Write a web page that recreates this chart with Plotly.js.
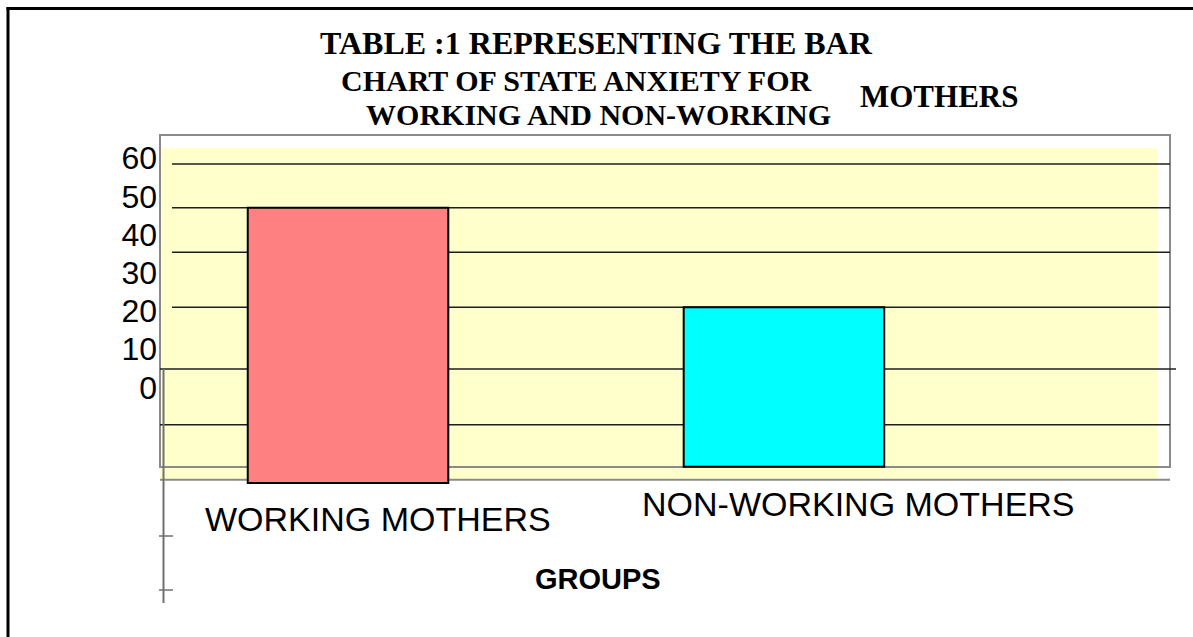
<!DOCTYPE html>
<html>
<head>
<meta charset="utf-8">
<script src="https://cdn.plot.ly/plotly-3.0.1.min.js"></script>
<style>
  html, body { margin: 0; padding: 0; background: #ffffff; }
  #chart { width: 1193px; height: 637px; }
</style>
</head>
<body>
<div id="chart"></div>
<script>
// ---- Data ----
const categories = ['WORKING MOTHERS', 'NON-WORKING MOTHERS'];
const anxietyScores = [47, 21];
const barBase = [-25, -20.8];
const yTickValues = [0, 10, 20, 30, 40, 50, 60];
const yTickLabels = ['0', '10', '20', '30', '40', '50', '60'];
const gridLevels = [58.5, 47.0, 35.4, 21.0, 4.8, -9.8, -24.2];
const barColors = ['#FF8080', '#00FFFF'];
const titleLines = ['TABLE :1 REPRESENTING THE BAR', 'CHART OF STATE ANXIETY FOR', 'WORKING AND NON-WORKING', 'MOTHERS'];
const xAxisTitle = 'GROUPS';

// ---- Layout geometry (pixels) ----
const W = 1193, H = 637;
const M = { l: 161, r: 35, t: 148, b: 151 };
const plotW = W - M.l - M.r, plotH = H - M.t - M.b;
const px = v => (v - M.l) / plotW;            // pixel x -> paper x
const py = v => (H - M.b - v) / plotH;        // pixel y -> paper y

const shapes = [];
// yellow plot background
shapes.push({ type: 'rect', xref: 'paper', yref: 'paper', layer: 'below',
  x0: px(160), x1: px(1158), y0: py(479), y1: py(148),
  fillcolor: '#FFFFCC', line: { width: 0 } });
// grey frame
shapes.push({ type: 'rect', xref: 'paper', yref: 'paper', layer: 'below',
  x0: px(160), x1: px(1170), y0: py(467), y1: py(135),
  fillcolor: 'rgba(0,0,0,0)', line: { color: '#8a8a8a', width: 2 } });
// grid lines via y axis scale
gridLevels.forEach((g, i) => {
  const last = i === gridLevels.length - 1;
  shapes.push({ type: 'line', xref: 'paper', yref: 'y', layer: 'below',
    x0: px(i < 4 ? 172 : 160), x1: px(i === 4 ? 1176 : 1170), y0: g, y1: g,
    line: { color: last ? '#8a8a8a' : '#1e1e1e', width: last ? 2 : 1.5 } });
});
// broken left axis line and ticks
shapes.push({ type: 'line', xref: 'paper', yref: 'paper', layer: 'below',
  x0: px(163.5), x1: px(163.5), y0: py(369), y1: py(603), line: { color: '#707070', width: 2 } });
[536, 590].forEach(t => shapes.push({ type: 'line', xref: 'paper', yref: 'paper', layer: 'below',
  x0: px(159), x1: px(173), y0: py(t), y1: py(t), line: { color: '#707070', width: 1.5 } }));
// outer page border (left & top)
shapes.push({ type: 'line', xref: 'paper', yref: 'paper', layer: 'above',
  x0: px(8), x1: px(8), y0: py(7), y1: py(640), line: { color: '#000', width: 3 } });
shapes.push({ type: 'line', xref: 'paper', yref: 'paper', layer: 'above',
  x0: px(6.5), x1: px(1200), y0: py(8.5), y1: py(8.5), line: { color: '#000', width: 3 } });

const serifFam = 'Liberation Serif, Times New Roman, serif';
const sans = { family: 'Liberation Sans, Arial, sans-serif', size: 34, color: '#000' };
const nb = '\u00a0\u00a0\u00a0';
const big = s => '<span style="font-size:30px">' + s + '</span>';

const annotations = [
  { text: titleLines[0], x: px(596), y: py(43), font: { family: serifFam, size: 32, color: '#000', weight: 'bold' } },
  { text: big(titleLines[1] + nb) + '<br>' + big(nb + titleLines[2]), x: px(587), y: py(97), align: 'center',
    font: { family: serifFam, size: 26.2, color: '#000', weight: 'bold' } },
  { text: titleLines[3], x: px(939), y: py(96), font: { family: serifFam, size: 31, color: '#000', weight: 'bold' } },
  { text: categories[0], x: px(378), y: py(519), font: sans },
  { text: categories[1], x: px(858), y: py(504), font: sans },
  { text: xAxisTitle, x: px(598), y: py(579),
    font: { family: 'Liberation Sans, Arial, sans-serif', size: 29, color: '#000', weight: 'bold' } }
].map(a => Object.assign({ xref: 'paper', yref: 'paper', xanchor: 'center', yanchor: 'middle', showarrow: false }, a));

const trace = {
  type: 'bar',
  x: categories,
  y: anxietyScores.map((v, i) => v - barBase[i]),
  base: barBase,
  width: 0.46,
  marker: { color: barColors, line: { color: '#000000', width: 2 } },
  hoverinfo: 'skip'
};

const layout = {
  width: W, height: H,
  margin: M,
  paper_bgcolor: '#ffffff',
  plot_bgcolor: 'rgba(0,0,0,0)',
  showlegend: false,
  xaxis: { type: 'category', range: [-0.429, 1.858], showticklabels: false, showgrid: false,
    zeroline: false, showline: false, ticks: '' },
  yaxis: { range: [-25.81, 62.67], tickvals: yTickValues, ticktext: yTickLabels, showgrid: false,
    zeroline: false, showline: false, ticks: '', ticklabelstandoff: 3,
    tickfont: { family: 'Liberation Sans, Arial, sans-serif', size: 32, color: '#000' } },
  shapes: shapes,
  annotations: annotations
};

Plotly.newPlot('chart', [trace], layout, { displayModeBar: false, staticPlot: true });
</script>
</body>
</html>
